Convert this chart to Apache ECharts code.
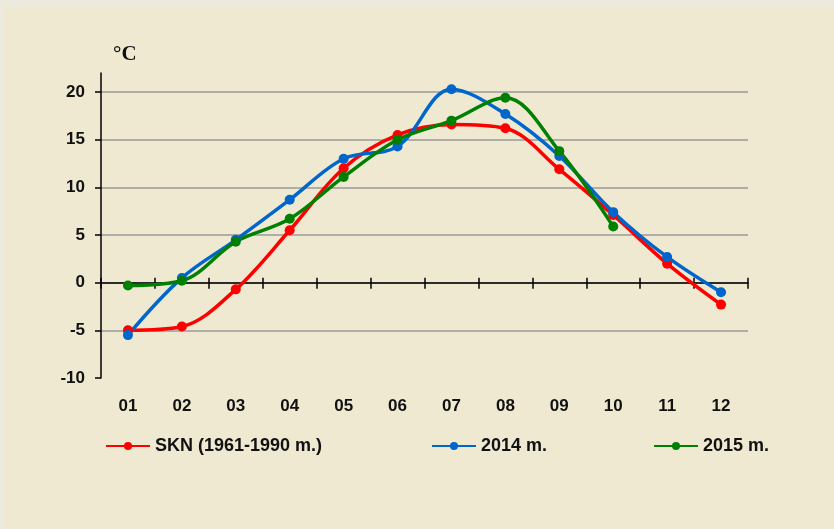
<!DOCTYPE html>
<html><head><meta charset="utf-8">
<script src="https://cdn.jsdelivr.net/npm/echarts@6/dist/echarts.min.js"></script>
<style>
html,body{margin:0;padding:0;background:#ece9de;width:834px;height:529px;overflow:hidden;}
#c{position:absolute;left:3px;top:8px;width:831px;height:521px;background:#efe9d2;}
</style></head>
<body><div id="c"></div>
<script>
const months = ['01','02','03','04','05','06','07','08','09','10','11','12'];
const skn = [-5.0,-4.6,-0.7,5.5,12.0,15.5,16.6,16.2,11.9,7.1,2.0,-2.3];
const y2014 = [-5.5,0.5,4.5,8.7,13.0,14.3,20.3,17.7,13.3,7.4,2.7,-1.0];
const y2015 = [-0.3,0.2,4.3,6.7,11.1,15.0,17.0,19.4,13.8,5.9,null,null];
const yTicks = [-10,-5,0,5,10,15,20];
const names = ['SKN (1961-1990 m.)','2014 m.','2015 m.'];
const colors = ['#ff0000','#0066cc','#008000'];

const chart = echarts.init(document.getElementById('c'));
const font = 'Liberation Sans, Arial, sans-serif';
function ser(name, data, color){
  return {name, type:'line', data, xAxisIndex:0, yAxisIndex:0, smooth:0.35,
    symbol:'circle', symbolSize:10, showSymbol:true, connectNulls:false,
    lineStyle:{color, width:3.5}, itemStyle:{color}, z:5};
}
const legendLefts = [102, 428, 650];
const legendTextStyle = {fontFamily:font, fontWeight:'bold', fontSize:18, color:'#111'};
chart.setOption({
  animation:false,
  backgroundColor:'transparent',
  title:{text:'°C', left:105, top:31, textStyle:{fontFamily:'Liberation Serif, Times New Roman, serif', fontWeight:'bold', fontSize:21, color:'#111'}},
  grid:{left:98, right:86, top:65, bottom:151},
  legend: names.map((n,i)=>({left:legendLefts[i], top:429, padding:0, itemWidth:44, itemHeight:10,
    data:[n], textStyle:legendTextStyle})),
  xAxis:[
    {type:'category', data:months, position:'bottom', boundaryGap:true,
     axisLine:{show:false, onZero:false}, axisTick:{show:false}, splitLine:{show:false},
     axisLabel:{margin:20, fontFamily:font, fontWeight:'bold', fontSize:17, color:'#111'}},
    {type:'category', data:months, position:'bottom', boundaryGap:true,
     axisLine:{show:true, onZero:true, lineStyle:{color:'#000', width:1.5}},
     axisTick:{show:true, length:6, lineStyle:{color:'#000', width:1.5}},
     axisLabel:{show:false}, splitLine:{show:false}},
    {type:'category', data:months, position:'bottom', boundaryGap:true, offset:0,
     axisLine:{show:false, onZero:false},
     axisTick:{show:true, inside:true, length:5, lineStyle:{color:'#000', width:1.5}},
     axisLabel:{show:false}, splitLine:{show:false}}
  ],
  yAxis:{type:'value', min:-10, max:22, interval:5,
    axisLine:{show:true, lineStyle:{color:'#000', width:1.5}},
    axisTick:{show:true, length:6, customValues:yTicks, lineStyle:{color:'#000', width:1.5}},
    axisLabel:{margin:16, customValues:yTicks, fontFamily:font, fontWeight:'bold', fontSize:17, color:'#111'},
    splitLine:{show:true, showMinLine:false, lineStyle:{color:'#999', width:1.5}}},
  series:[ser(names[0], skn, colors[0]), ser(names[1], y2014, colors[1]), ser(names[2], y2015, colors[2])]
});
// move the upward tick axis onto the zero line using the library's own scale
const zeroPx = chart.convertToPixel({yAxisIndex:0}, 0);
const minPx = chart.convertToPixel({yAxisIndex:0}, -10);
chart.setOption({xAxis:[{}, {}, {offset: zeroPx - minPx}]});
</script></body></html>
